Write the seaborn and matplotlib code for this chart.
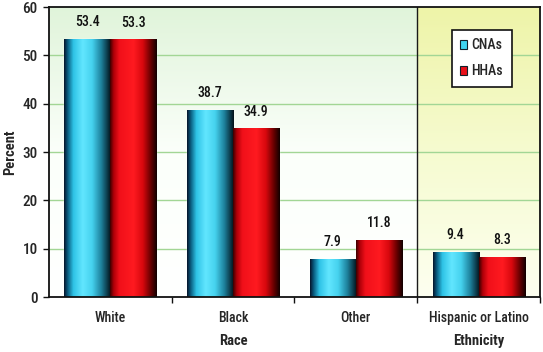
import numpy as np
import pandas as pd
import matplotlib
matplotlib.use("Agg")
import matplotlib.pyplot as plt
from matplotlib.colors import LinearSegmentedColormap
from matplotlib import font_manager
import seaborn as sns

categories = ["White", "Black", "Other", "Hispanic or Latino"]
cnas = [53.4, 38.7, 7.9, 9.4]
hhas = [53.3, 34.9, 11.8, 8.3]
series_names = ["CNAs", "HHAs"]
group_labels = ["Race", "Ethnicity"]
y_ticks = [0, 10, 20, 30, 40, 50, 60]

df = pd.DataFrame({
    "cat": categories * 2,
    "val": cnas + hhas,
    "series": [series_names[0]] * 4 + [series_names[1]] * 4,
})

sns.set_theme(style="white")
names = {f.name for f in font_manager.fontManager.ttflist}
fam = "DejaVu Sans"
for cand in ["Liberation Sans Narrow", "Roboto Condensed", "Open Sans Condensed", "Liberation Sans"]:
    if cand in names:
        fam = cand
        break
plt.rcParams["font.family"] = [fam, "DejaVu Sans"]
plt.rcParams["font.weight"] = "medium"

fig = plt.figure(figsize=(5.43, 3.52), dpi=100)
ax = fig.add_axes([0.090, 0.156, 0.9045, 0.824])

palette = {"CNAs": "#3fd3f0", "HHAs": "#e8101a"}
sns.barplot(data=df, x="cat", y="val", hue="series", palette=palette,
            width=0.75, ax=ax, saturation=1, zorder=3, legend=True)

ax.set_xlim(-0.5, 3.5)
ax.set_ylim(0, 60)

# background gradients
grad = np.linspace(1, 0, 256).reshape(-1, 1)
green = LinearSegmentedColormap.from_list("g", ["#ffffff", "#fbfffa", "#e0f4da"])
yellow = LinearSegmentedColormap.from_list("y", ["#fdfff0", "#f6fbd0", "#eef4a8"])
ax.imshow(grad, cmap=green, aspect="auto", extent=(-0.5, 2.5, 0, 60),
          origin="upper", zorder=0, vmin=0, vmax=1)
ax.imshow(grad, cmap=yellow, aspect="auto", extent=(2.5, 3.5, 0, 60),
          origin="upper", zorder=0, vmin=0, vmax=1)
ax.set_xlim(-0.5, 3.5)
ax.set_ylim(0, 60)

for y in y_ticks[1:-1]:
    ax.axhline(y, color="#a2d695", lw=1.0, zorder=1)
ax.axvline(2.5, color="#1a1a1a", lw=1.0, zorder=2)

# bar gradients
cmaps = [
    LinearSegmentedColormap.from_list("c", [(0, "#06142a"), (0.08, "#0a5d80"), (0.2, "#2ec3e6"),
                                            (0.4, "#62e6ff"), (0.6, "#45d2ee"), (0.8, "#1d7f9a"),
                                            (1.0, "#021018")]),
    LinearSegmentedColormap.from_list("r", [(0, "#3a0000"), (0.08, "#b00008"), (0.2, "#f0101a"),
                                            (0.5, "#ff1a20"), (0.7, "#d8080e"), (0.88, "#600000"),
                                            (1.0, "#100000")]),
]
hgrad = np.linspace(0, 1, 256).reshape(1, -1)
for ci, cont in enumerate(ax.containers):
    for p in cont.patches:
        x, w, h = p.get_x(), p.get_width(), p.get_height()
        im = ax.imshow(hgrad, cmap=cmaps[ci], aspect="auto",
                       extent=(x, x + w, 0, h), zorder=4)
        im.set_clip_path(p)
    ax.bar_label(cont, fmt="%.1f", padding=7, fontsize=10, color="#111111", zorder=5)
ax.set_xlim(-0.5, 3.5)
ax.set_ylim(0, 60)

# axes styling
for s in ax.spines.values():
    s.set_visible(True)
    s.set_color("#111111")
    s.set_linewidth(1.3)
    s.set_zorder(6)

ax.set_yticks(y_ticks)
ax.set_yticklabels([str(t) for t in y_ticks], fontsize=11)
ax.tick_params(axis="y", length=4, width=1, color="#111111", left=True, pad=4)
ax.set_xticks(range(4))
ax.set_xticklabels(categories, fontsize=10)
ax.tick_params(axis="x", length=0, pad=10)
ax.set_xticks([0.5, 1.5, 2.5, 3.5], minor=True)
ax.tick_params(axis="x", which="minor", length=4, width=1, color="#111111", bottom=True)

ax.set_xlabel("")
ax.set_ylabel("Percent", fontsize=10.5, fontweight="bold", labelpad=4)

ax.text(1.0, -0.153, group_labels[0], transform=ax.get_xaxis_transform(),
        ha="center", va="center", fontsize=10.5, fontweight="bold")
ax.text(3.0, -0.153, group_labels[1], transform=ax.get_xaxis_transform(),
        ha="center", va="center", fontsize=10.5, fontweight="bold")

leg = ax.legend(loc="upper left", bbox_to_anchor=(0.821, 0.922), frameon=True,
                fancybox=False, fontsize=10, handlelength=0.5, handleheight=0.6,
                handletextpad=0.3, labelspacing=0.9, borderpad=0.6, borderaxespad=0,
                title=None)
leg.get_frame().set_edgecolor("#111111")
leg.get_frame().set_linewidth(1.2)
leg.get_frame().set_facecolor("white")
leg.get_frame().set_alpha(1)
leg.set_zorder(7)
for hnd in leg.legend_handles:
    hnd.set_edgecolor("#10202a")
    hnd.set_linewidth(0.8)

fig.savefig("out.png", dpi=100, facecolor="white")
